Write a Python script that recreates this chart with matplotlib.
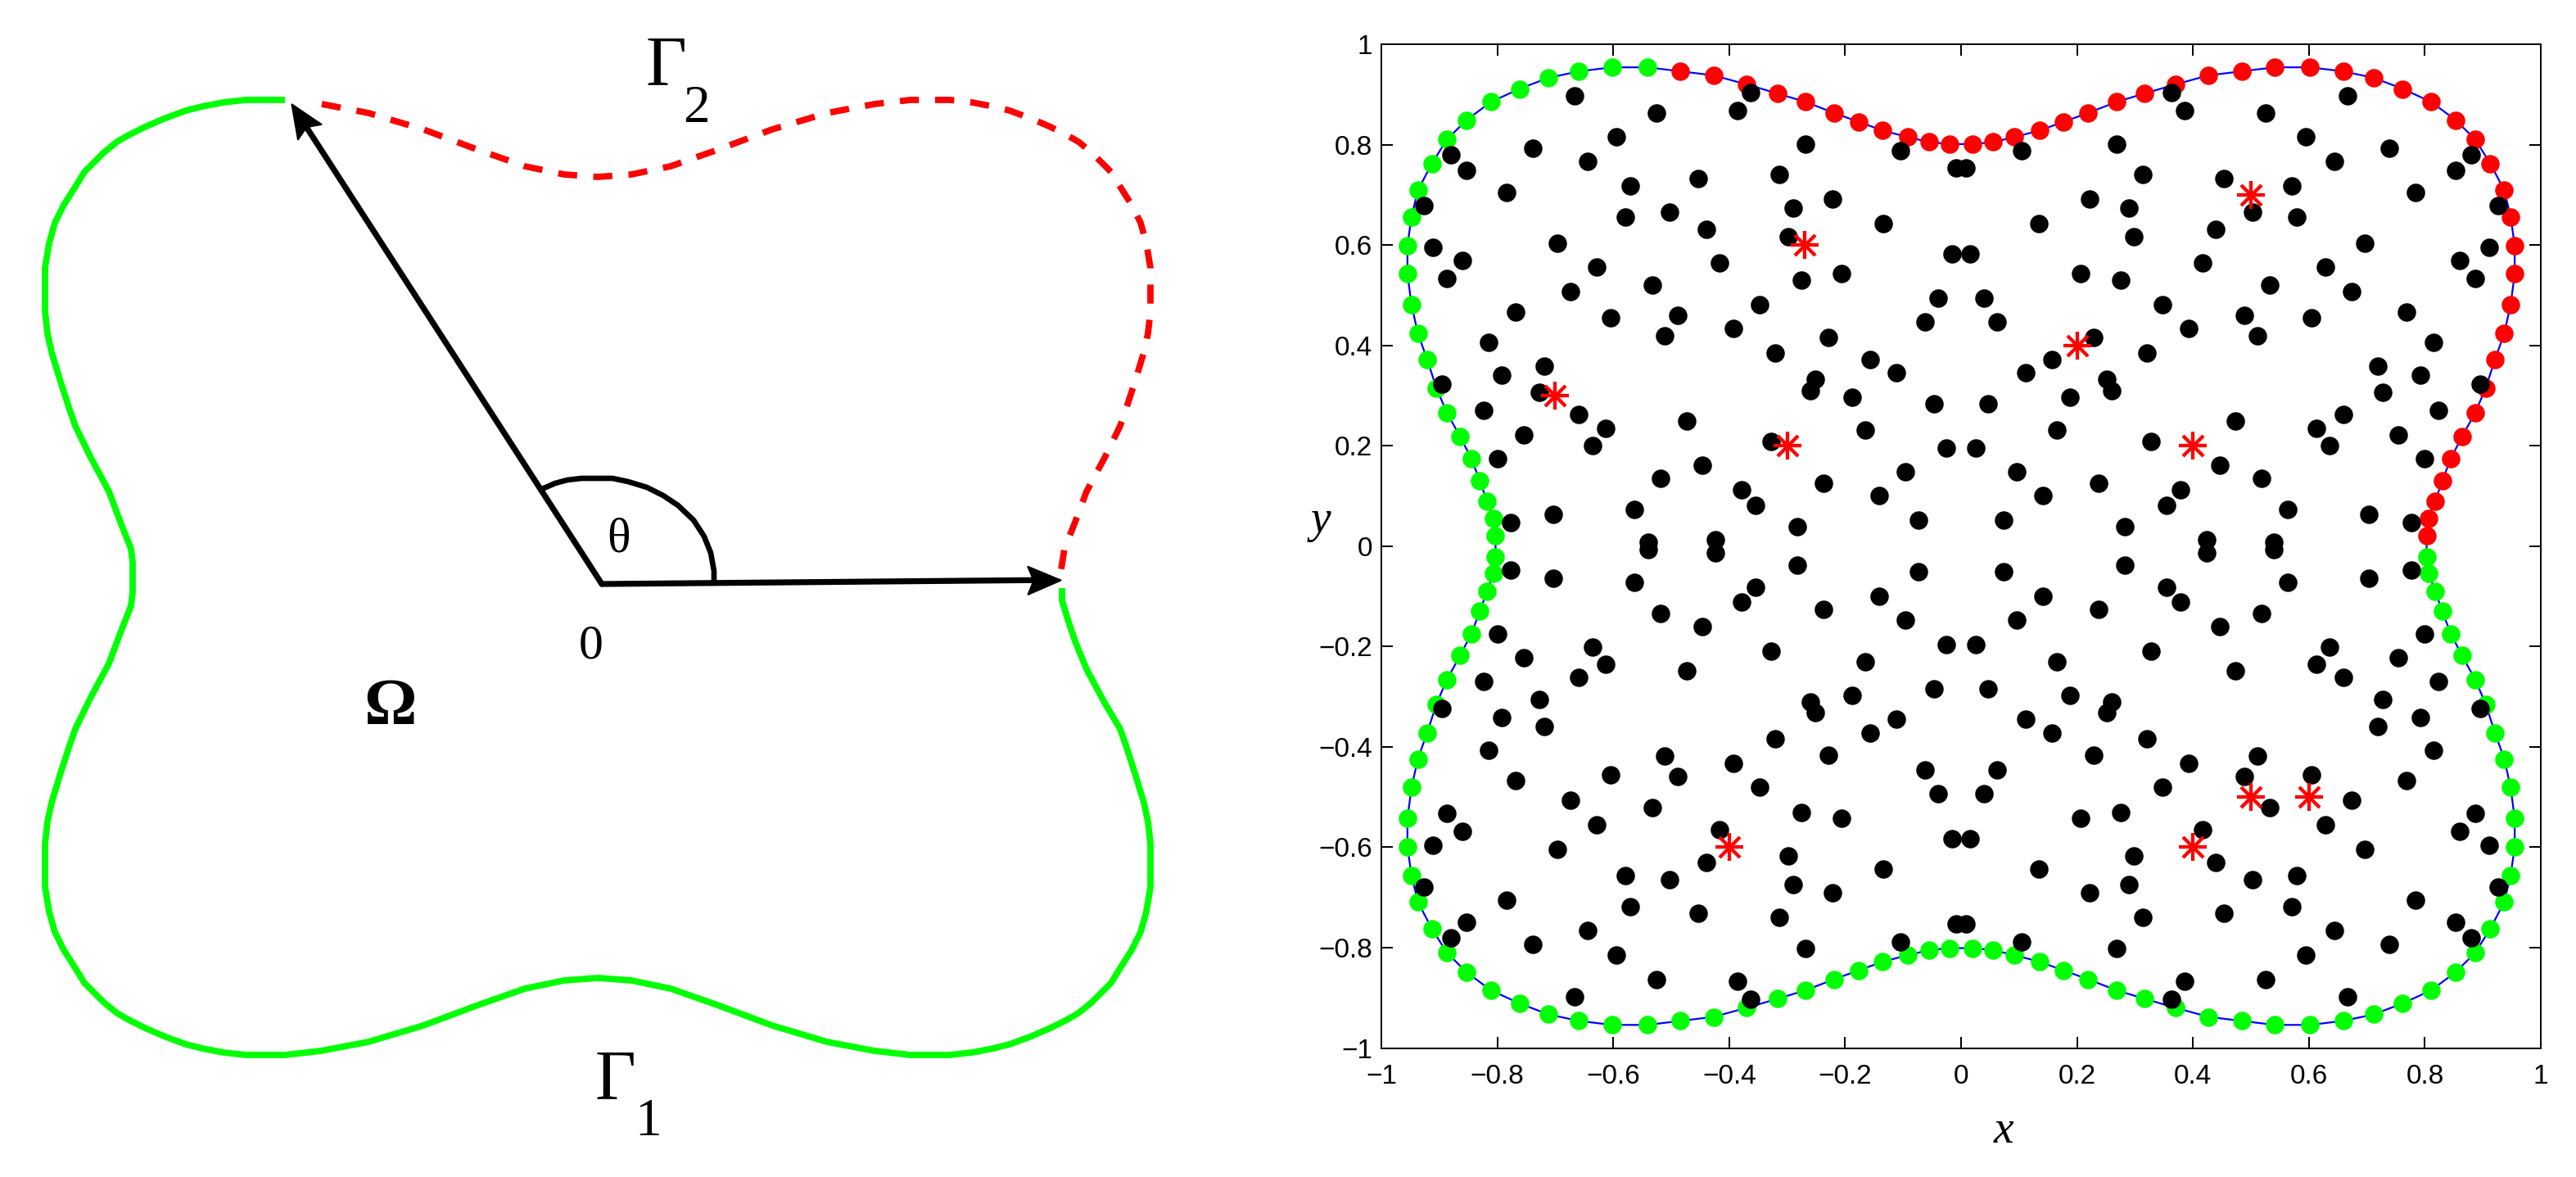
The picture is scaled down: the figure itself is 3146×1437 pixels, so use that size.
import math
import matplotlib
matplotlib.use("Agg")
import matplotlib.pyplot as plt
from matplotlib.path import Path

W, H = 3146, 1437

# ---- right panel: tick values ----
tick_values = [-1, -0.8, -0.6, -0.4, -0.2, 0, 0.2, 0.4, 0.6, 0.8, 1]
tick_labels = ["\u22121", "\u22120.8", "\u22120.6", "\u22120.4", "\u22120.2", "0", "0.2", "0.4", "0.6", "0.8", "1"]

# ---- boundary collocation points, four sides of the domain ----
bnd_x_left = [-.020,-.055,-.092,-.135,-.176,-.219,-.268,-.317,-.370,-.427,-.484,-.541,-.602,-.659,-.712,-.762,-.811,-.853,-.887,-.913,-.937,-.948,-.955,-.955,-.948,-.937,-.921,-.905,-.887,-.864,-.845,-.830,-.818,-.807,-.803]
bnd_x_right = [.020,.055,.092,.135,.176,.219,.268,.317,.370,.427,.484,.541,.602,.659,.712,.762,.811,.853,.887,.913,.937,.948,.955,.955,.948,.937,.921,.905,.887,.864,.845,.830,.818,.807,.803]
bnd_y_top = [.801,.805,.815,.828,.845,.863,.885,.902,.920,.938,.946,.954,.954,.946,.933,.911,.885,.849,.810,.762,.709,.656,.599,.543,.481,.424,.372,.315,.266,.218,.175,.130,.090,.055,.021]
bnd_y_bottom = [-.801,-.805,-.815,-.828,-.845,-.863,-.885,-.902,-.920,-.938,-.946,-.954,-.954,-.946,-.933,-.911,-.885,-.849,-.810,-.762,-.709,-.656,-.599,-.543,-.481,-.424,-.372,-.315,-.266,-.218,-.175,-.130,-.090,-.055,-.021]

# ---- interior points ----
in_x_left = [-.667,-.526,-.363,-.385,-.595,-.268,-.104,-.738,-.880,-.853,-.644,-.313,-.453,-.009,-.571,-.784,-.926,-.579,-.503,-.290,-.222,-.134,-.439,-.298,-.697,-.911,-.860,-.628,-.416,-.016,-.887,-.206,-.275,-.533,-.674,-.039,-.347,-.769,-.488,-.605,-.062,-.392,-.511,-.815,-.229,-.320,-.719,-.157,-.792,-.111,-.252,-.895,-.260,-.727,-.188,-.823,-.047,-.659,-.473,-.613,-.165,-.754,-.328,-.636,-.025,-.799,-.446,-.096,-.518,-.237,-.378,-.141,-.354,-.563,-.704,-.777,-.074,-.283,-.424,-.540]
in_x_right = [.667,.526,.363,.385,.595,.268,.104,.738,.880,.853,.644,.313,.453,.009,.571,.784,.926,.579,.503,.290,.222,.134,.439,.298,.697,.911,.860,.628,.416,.016,.887,.206,.275,.533,.674,.039,.347,.769,.488,.605,.062,.392,.511,.815,.229,.320,.719,.157,.792,.111,.252,.895,.260,.727,.188,.823,.047,.659,.473,.613,.165,.754,.328,.636,.025,.799,.446,.096,.518,.237,.378,.141,.354,.563,.704,.777,.074,.283,.424,.540]
in_y_top = [.898,.863,.903,.867,.815,.801,.788,.793,.780,.749,.766,.740,.732,.753,.718,.705,.679,.656,.665,.674,.691,.643,.631,.617,.604,.596,.569,.556,.565,.583,.533,.543,.530,.521,.507,.494,.481,.467,.459,.455,.446,.433,.419,.406,.416,.384,.359,.372,.341,.345,.332,.323,.310,.306,.297,.270,.284,.262,.249,.235,.231,.222,.209,.201,.196,.175,.161,.148,.135,.126,.112,.100,.082,.073,.064,.047,.051,.038,.013,.007]
in_y_bottom = [-.898,-.863,-.903,-.867,-.815,-.801,-.788,-.793,-.780,-.749,-.766,-.740,-.732,-.753,-.718,-.705,-.679,-.656,-.665,-.674,-.691,-.643,-.631,-.617,-.604,-.596,-.569,-.556,-.565,-.583,-.533,-.543,-.530,-.521,-.507,-.494,-.481,-.467,-.459,-.455,-.446,-.433,-.419,-.406,-.416,-.384,-.359,-.372,-.341,-.345,-.332,-.323,-.310,-.306,-.297,-.270,-.284,-.262,-.249,-.235,-.231,-.222,-.209,-.201,-.196,-.175,-.161,-.148,-.135,-.126,-.112,-.100,-.082,-.073,-.064,-.047,-.051,-.038,-.013,-.007]

# ---- source points ----
src_x = [-.27, -.70, -.30, .20, .50, .40, -.40, .40, .50, .60]
src_y = [.60, .30, .20, .40, .70, .20, -.60, -.60, -.50, -.50]

# ---- left panel: schematic curves (panel units are image pixels) ----
gamma1_x = [348,320,300,273,247,227,200,177,157,143,127,103,92,78,67,60,55,55,55,58,63,73,85,92,110,133,148,160,162,162,
            162,160,148,133,110,92,85,73,63,58,55,55,55,60,67,78,92,103,127,143,157,177,200,227,247,273,300,320,348,
            392,450,517,584,641,689,730,
            771,819,876,943,1010,1068,1112,1140,1160,1187,1213,1233,1260,1283,1303,1317,1333,1357,1368,1382,1393,1400,1405,1405,1405,1402,1397,1387,1375,1368,1349,1327,1313,1303,1297,1297]
gamma1_y = [122,122,122,125,130,135,145,155,165,173,186,210,228,250,272,297,327,353,380,407,430,463,500,520,557,600,640,670,687,705,
            723,740,770,810,853,890,910,947,980,1003,1030,1057,1083,1113,1138,1160,1182,1200,1224,1237,1245,1255,1265,1275,1280,1285,1288,1288,1288,
            1283,1272,1252,1227,1207,1197,1194,
            1197,1207,1227,1252,1272,1283,1288,1288,1288,1285,1280,1275,1265,1255,1245,1237,1224,1200,1182,1160,1138,1113,1083,1057,1030,1003,980,947,910,890,858,817,783,753,733,718]
gamma2_x = [393,450,517,584,641,689,730,771,819,876,943,1010,1068,1112,1140,1160,1187,1213,1233,1260,1283,1303,1317,1333,1357,1368,1382,1393,1400,1405,1405,1405,1402,1397,1387,1375,1368,1350,1327,1312,1300,1296]
gamma2_y = [127,138,158,183,203,213,216,213,203,183,158,138,127,122,122,122,125,130,135,145,155,165,173,186,210,228,250,272,297,327,353,380,407,430,463,500,520,557,600,640,670,695]
arc_x = [662,678,693,710,748,767,790,810,828,847,860,868,872,872]
arc_y = [597,590,586,584,584,588,595,605,617,635,655,675,697,711]
origin = (735, 713)
arrow_tips = [(1295, 708), (356, 127)]

GREEN, RED, BLUE = "#00ff00", "#ff0000", "#0000ff"
SERIF = "Liberation Serif"
HEAD_LEN, HEAD_HALF, HEAD_NOTCH = 40.0, 17.0, 33.0   # pixels
CURVE_LW = 5.6
DASH_PX, GAP_PX = 23.0, 19.5


def head_marker(angle):
    c, s = math.cos(angle), math.sin(angle)
    pts = [(0, 0), (-HEAD_LEN, HEAD_HALF), (-HEAD_NOTCH, 0), (-HEAD_LEN, -HEAD_HALF), (0, 0)]
    return Path([(px * c - py * s, px * s + py * c) for px, py in pts], closed=True)


def dash_pattern(xs, ys):
    # fit the dash period so the dashed curve ends on a whole dash
    length = sum(math.hypot(x1 - x0, y1 - y0) for x0, y0, x1, y1 in zip(xs, ys, xs[1:], ys[1:]))
    n = round((length + GAP_PX) / (DASH_PX + GAP_PX))
    k = (length + GAP_PX) / (n * (DASH_PX + GAP_PX))
    lw_px = CURVE_LW * 100 / 72
    return (0, (DASH_PX * k / lw_px, GAP_PX * k / lw_px))


fig = plt.figure(figsize=(W / 100, H / 100), dpi=100, facecolor="white")

# left panel
axl = fig.add_axes([0, 0, 1500 / W, 1])
axl.set_xlim(0, 1500)
axl.set_ylim(1437, 0)
axl.axis("off")
axl.plot(gamma1_x, gamma1_y, color=GREEN, lw=CURVE_LW, solid_joinstyle="round", solid_capstyle="butt")
axl.plot(gamma2_x, gamma2_y, color=RED, lw=CURVE_LW, linestyle=dash_pattern(gamma2_x, gamma2_y),
         dash_capstyle="butt", dash_joinstyle="round")
axl.plot(arc_x, arc_y, color="black", lw=4.8, solid_joinstyle="round", solid_capstyle="butt")
for tip in arrow_tips:
    dx, dy = tip[0] - origin[0], tip[1] - origin[1]
    dist = math.hypot(dx, dy)
    f = 1 - (HEAD_NOTCH + 2) / dist
    axl.plot([origin[0], origin[0] + dx * f], [origin[1], origin[1] + dy * f],
             color="black", lw=5.2, solid_capstyle="round")
    marker = head_marker(math.atan2(-dy, dx))
    scale = max(abs(v) for xy in marker.vertices for v in xy)
    axl.plot([tip[0]], [tip[1]], linestyle="none", marker=marker,
             markersize=2 * scale * 0.72, color="black", markeredgewidth=1.5,
             markeredgecolor="black")

axl.text(813, 82, "\u0393", family=SERIF, fontsize=62, ha="center", va="center")
axl.text(850, 133, "2", family=SERIF, fontsize=47, ha="center", va="center")
axl.text(751, 1320, "\u0393", family=SERIF, fontsize=62, ha="center", va="center")
axl.text(792, 1370, "1", family=SERIF, fontsize=47, ha="center", va="center")
axl.text(476, 856, "\u03a9", family=SERIF, fontsize=58, fontweight="bold", ha="center", va="center_baseline")
axl.text(755, 659, "\u03b8", family=SERIF, fontsize=43, ha="center", va="center")
axl.text(722, 790, "0", family=SERIF, fontsize=43, ha="center", va="center")

# right panel
ax = fig.add_axes([1687 / W, 1 - 1279.5 / H, 1416 / W, 1225.5 / H])
ax.set_xlim(-1, 1)
ax.set_ylim(-1, 1)
ax.set_xticks(tick_values)
ax.set_xticklabels(tick_labels, family="Liberation Sans", fontsize=24)
ax.set_yticks(tick_values)
ax.set_yticklabels(tick_labels, family="Liberation Sans", fontsize=24)
ax.tick_params(axis="both", which="major", direction="in", length=10, width=1.44, top=True, right=True)
ax.tick_params(axis="x", pad=14)
ax.tick_params(axis="y", pad=8)
for s in ax.spines.values():
    s.set_linewidth(1.44)

loop_x = bnd_x_right + bnd_x_right[::-1] + bnd_x_left + bnd_x_left[::-1] + bnd_x_right[:1]
loop_y = bnd_y_top + bnd_y_bottom[::-1] + bnd_y_bottom + bnd_y_top[::-1] + bnd_y_top[:1]
ax.plot(loop_x, loop_y, color=BLUE, lw=1.6, zorder=2)

dot = dict(linestyle="none", marker="o", markersize=16.2, markeredgewidth=0, zorder=3)
ax.plot(bnd_x_right, bnd_y_bottom, color=GREEN, **dot)
ax.plot(bnd_x_left, bnd_y_bottom, color=GREEN, **dot)
ax.plot(bnd_x_left[11:], bnd_y_top[11:], color=GREEN, **dot)
ax.plot(bnd_x_right, bnd_y_top, color=RED, **dot)
ax.plot(bnd_x_left[:11], bnd_y_top[:11], color=RED, **dot)

black = dict(linestyle="none", marker="o", markersize=16.2, markeredgewidth=0, color="black", zorder=4)
ax.plot(in_x_left, in_y_top, **black)
ax.plot(in_x_right, in_y_top, **black)
ax.plot(in_x_left, in_y_bottom, **black)
ax.plot(in_x_right, in_y_bottom, **black)

ax.plot(src_x, src_y, linestyle="none", marker="+", markersize=25, markeredgewidth=3.1, color=RED, zorder=5)
ax.plot(src_x, src_y, linestyle="none", marker="x", markersize=18, markeredgewidth=3.1, color=RED, zorder=5)

ax.text(0.074, -1.166, "x", family=SERIF, style="italic", fontsize=40, ha="center", va="center")
ax.text(-1.105, 0.05, "y", family=SERIF, style="italic", fontsize=40, ha="center", va="center")

fig.savefig("out.png", dpi=100, facecolor="white")
